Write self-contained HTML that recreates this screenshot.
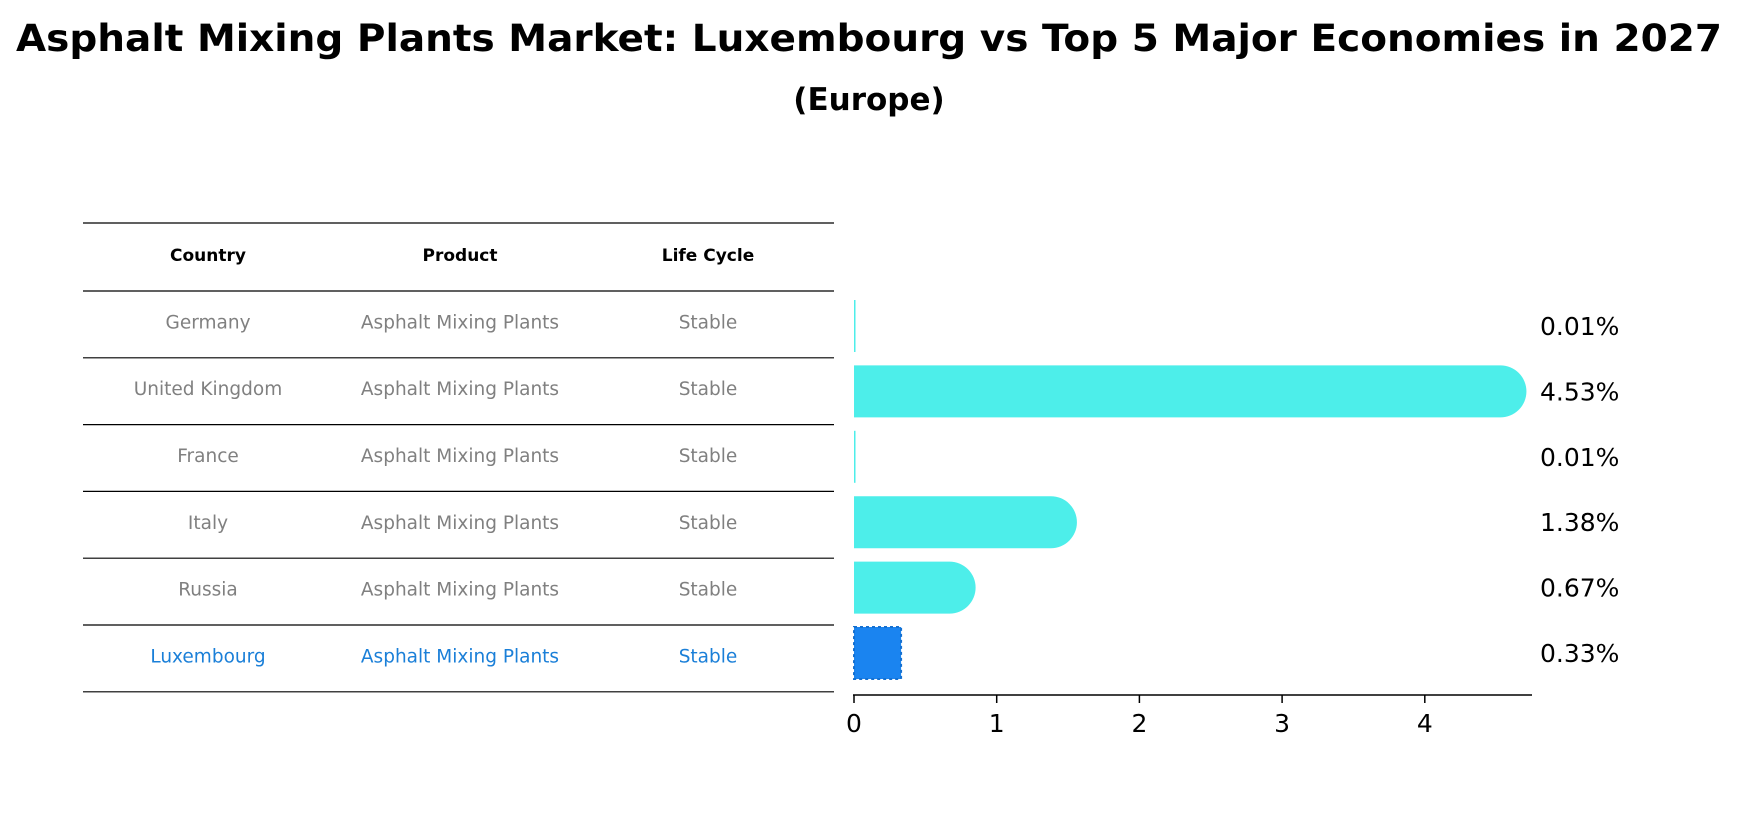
<!DOCTYPE html>
<html><head><meta charset="utf-8"><style>
html,body{margin:0;padding:0;background:#fff;}
svg{display:block;font-family:"DejaVu Sans","Liberation Sans",sans-serif;}
</style></head><body>
<svg id="chart" width="1739" height="823" viewBox="0 0 1739 823">
<text x="869" y="51" text-anchor="middle" font-size="37" font-weight="bold" textLength="1706" lengthAdjust="spacingAndGlyphs">Asphalt Mixing Plants Market: Luxembourg vs Top 5 Major Economies in 2027</text>
<text x="869" y="110" text-anchor="middle" font-size="31" font-weight="bold">(Europe)</text>
<g id="table"></g>
<g id="bars"></g>
</svg>
<script>
const countries = ["Germany","United Kingdom","France","Italy","Russia","Luxembourg"];
const products = ["Asphalt Mixing Plants","Asphalt Mixing Plants","Asphalt Mixing Plants","Asphalt Mixing Plants","Asphalt Mixing Plants","Asphalt Mixing Plants"];
const lifeCycles = ["Stable","Stable","Stable","Stable","Stable","Stable"];
const values = [0.01,4.53,0.01,1.38,0.67,0.33];
const valueLabels = ["0.01%","4.53%","0.01%","1.38%","0.67%","0.33%"];
const ticks = [0,1,2,3,4];
const highlight = "Luxembourg";

const NS = "http://www.w3.org/2000/svg";
function mk(tag, attrs, parent){const e=document.createElementNS(NS,tag);for(const k in attrs)e.setAttribute(k,attrs[k]);parent.appendChild(e);return e;}
const table=document.getElementById('table');
const bars=document.getElementById('bars');
const tx0=83, tx1=834, headerTop=223, rowH=66.8, headerH=68;
const colX=[208,460,708];
function rowY(i){return headerTop+headerH+i*rowH;}
let l=mk('line',{x1:tx0,x2:tx1,y1:headerTop,y2:headerTop,stroke:'#000','stroke-width':1.2},table);


["Country","Product","Life Cycle"].forEach((h,j)=>{
  const t=mk('text',{x:colX[j],y:headerTop+headerH/2+4,'text-anchor':'middle','font-size':17,'font-weight':'bold'},table);
  t.textContent=h;
  
  
});
countries.forEach((c,i)=>{
  const y0=rowY(i);
  const ln=mk('line',{x1:tx0,x2:tx1,y1:y0,y2:y0,stroke:'#000','stroke-width':1.2},table);
  
  
  const col=c===highlight?'#1a7fd8':'#808080';
  [c,products[i],lifeCycles[i]].forEach((v,j)=>{
    const t=mk('text',{x:colX[j],y:y0+rowH/2+4,'text-anchor':'middle','font-size':18.5,fill:col},table);
    t.textContent=v;
    
    
  });
});
const lb=mk('line',{x1:tx0,x2:tx1,y1:rowY(countries.length),y2:rowY(countries.length),stroke:'#000','stroke-width':1.2},table);



const bx0=854, unit=142.7, barTop0=326, barStep=65.4, barH=52, axisY=695;
function xs(v){return bx0+v*unit;}
function yc(i){return barTop0+i*barStep;}
values.forEach((v,i)=>{
  const c=countries[i], cy=yc(i), w=xs(v)-bx0;
  let e;
  if(c===highlight){
    e=mk('rect',{x:bx0,y:cy-barH/2,width:w,height:barH,fill:'#1a84f0',stroke:'#1570d0','stroke-width':2,'stroke-dasharray':'3,3'},bars);
  } else if(w<6){
    e=mk('rect',{x:bx0,y:cy-barH/2,width:Math.max(w,1.5),height:barH,fill:'#4deeea'},bars);
  } else {
    const r=barH/2;
    e=mk('path',{d:`M${bx0},${cy-r} H${xs(v)} A${r},${r} 0 0 1 ${xs(v)},${cy+r} H${bx0} Z`,fill:'#4deeea'},bars);
  }
  
  
  const t=mk('text',{x:1540,y:cy+9,'font-size':25},bars);
  t.textContent=valueLabels[i];
  
  
});
const ax=mk('line',{x1:bx0-1,x2:1532,y1:axisY,y2:axisY,stroke:'#000','stroke-width':1.5},bars);


ticks.forEach(tv=>{
  const tk=mk('line',{x1:xs(tv),x2:xs(tv),y1:axisY,y2:axisY+8,stroke:'#000','stroke-width':1.5},bars);
  
  
  const t=mk('text',{x:xs(tv),y:axisY+37,'text-anchor':'middle','font-size':25},bars);
  t.textContent=tv;
  
  
});
</script>
</body></html>
